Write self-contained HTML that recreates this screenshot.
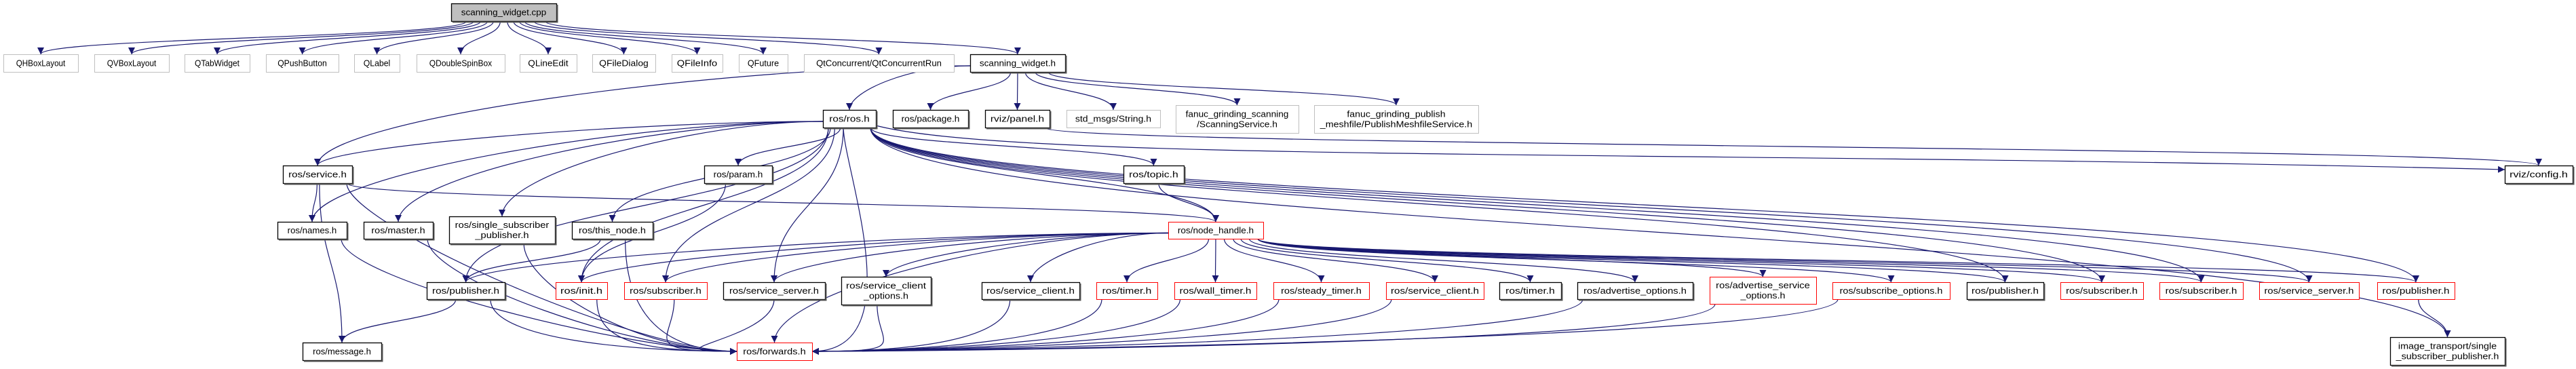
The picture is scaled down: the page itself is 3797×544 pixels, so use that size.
<!DOCTYPE html>
<html><head><meta charset="utf-8"><style>
html,body{margin:0;padding:0;background:#fff;}
svg{display:block;}
text{font-family:"Liberation Sans","DejaVu Sans",sans-serif;font-size:13px;fill:#000;}
</style></head><body>
<svg id="g" width="3797" height="544" viewBox="0 0 3797 544" xmlns="http://www.w3.org/2000/svg">
<defs><marker id="a" viewBox="0 0 10 10" refX="10" refY="5" markerWidth="10" markerHeight="10" markerUnits="userSpaceOnUse" orient="auto"><path d="M0,0 L10,5 L0,10 z" fill="#191970"/></marker></defs>
<g id="edges" fill="none" stroke="#191970" stroke-width="1.2"></g>
<g id="nodes"></g>
</svg>
<script>
var N={
cpp:[665,820,5,31,'r','scanning_widget.cpp'],
qh:[5,115,80,106,'g','QHBoxLayout'],qv:[139,249,80,106,'g','QVBoxLayout'],qt:[272,368,80,106,'g','QTabWidget'],
qp:[392,499,80,106,'g','QPushButton'],ql:[522,589,80,106,'g','QLabel'],qd:[614,744,80,106,'g','QDoubleSpinBox'],
qe:[766,850,80,106,'g','QLineEdit'],qf:[873,966,80,106,'g','QFileDialog'],qi:[990,1065,80,106,'g','QFileInfo'],
qu:[1089,1161,80,106,'g','QFuture'],qc:[1185,1406,80,106,'g','QtConcurrent/QtConcurrentRun'],swh:[1430,1570,80,106,'b','scanning_widget.h'],
ros:[1213,1291,162,188,'b','ros/ros.h'],pkg:[1316,1427,162,188,'b','ros/package.h'],pan:[1452,1547,162,188,'b','rviz/panel.h'],
std:[1572,1710,162,188,'g','std_msgs/String.h'],fs:[1733,1914,155,196,'g','fanuc_grinding_scanning|/ScanningService.h'],
fp:[1937,2179,155,196,'g','fanuc_grinding_publish|_meshfile/PublishMeshfileService.h'],
srv:[417,519,244,270,'b','ros/service.h'],par:[1038,1138,244,270,'b','ros/param.h'],top:[1656,1745,244,270,'b','ros/topic.h'],cfg:[3692,3792,244,270,'b','rviz/config.h'],
nam:[409,511,327,352,'b','ros/names.h'],mas:[536,638,327,352,'b','ros/master.h'],ssp:[662,818,319,359,'b','ros/single_subscriber|_publisher.h'],
thn:[843,962,327,352,'b','ros/this_node.h'],nh:[1722,1862,327,352,'x','ros/node_handle.h'],
pub:[629,744,416,441,'b','ros/publisher.h'],ini:[819,895,416,441,'x','ros/init.h'],sub:[920,1042,416,441,'x','ros/subscriber.h'],
ss:[1066,1216,416,441,'b','ros/service_server.h'],sco:[1240,1372,408,449,'b','ros/service_client|_options.h'],
sc:[1447,1591,416,441,'b','ros/service_client.h'],tim:[1616,1706,416,441,'x','ros/timer.h'],wt:[1731,1852,416,441,'x','ros/wall_timer.h'],
st:[1877,2018,416,441,'x','ros/steady_timer.h'],sc2:[2043,2187,416,441,'x','ros/service_client.h'],tim2:[2210,2301,416,441,'b','ros/timer.h'],
ao:[2325,2495,416,441,'b','ros/advertise_options.h'],aso:[2520,2677,408,448,'x','ros/advertise_service|_options.h'],
so:[2701,2874,416,441,'x','ros/subscribe_options.h'],pub2:[2899,3012,416,441,'b','ros/publisher.h'],sub2:[3037,3159,416,441,'x','ros/subscriber.h'],
sub3:[3183,3306,416,441,'x','ros/subscriber.h'],ss2:[3330,3477,416,441,'x','ros/service_server.h'],pub3:[3504,3618,416,441,'x','ros/publisher.h'],
msg:[446,562,505,531,'b','ros/message.h'],fw:[1086,1197,505,531,'x','ros/forwards.h'],it:[3523,3692,497,538,'b','image_transport/single|_subscriber_publisher.h']
};
var E=[];
['qh','qv','qt','qp','ql','qd','qe','qf','qi','qu','qc','swh'].forEach(function(k){E.push(['cpp',k]);});
['ros','pkg','pan','std','fs','fp','srv'].forEach(function(k){E.push(['swh',k]);});
E.push(['pan','cfg']);
['srv','nam','mas','ssp','thn','par','top','nh','pub','ini','sub','ss','fw','pub2','sub2','sub3','ss2','pub3','it','cfg'].forEach(function(k){E.push(['ros',k]);});
['nam','msg','fw','nh'].forEach(function(k){E.push(['srv',k]);});
['nam','mas','ssp','thn','ini','sub','ss','sco','sc','tim','wt','st','sc2','ao','aso','so'].forEach(function(k){E.push([k,'fw']);});
E.push(['par','ini'],['thn','pub'],['pub','msg'],['pub','fw'],['top','nh'],['pub3','it']);
['ss','sub','ini','pub','sco','sc','tim','wt','st','sc2','tim2','ao','aso','so','pub2','sub2','sub3','ss2','pub3','fw'].forEach(function(k){E.push(['nh',k]);});
var ns='http://www.w3.org/2000/svg',eg=document.getElementById('edges'),ng=document.getElementById('nodes');
function cx(n){return (n[0]+n[1])/2;}
E.forEach(function(e){var s=N[e[0]],t=N[e[1]];var sx=cx(s),sy=s[3],tx=cx(t),ty=t[2],d;
 var sxx=sx+Math.max(-(s[1]-s[0])/2+8,Math.min((s[1]-s[0])/2-8,(tx-sx)*0.08));
 var dx=tx-sx,gap=ty-sy;
 if(e[1]=='fw'&&e[0]!='nh'){ if(s[0]<1086){tx=1086;ty=518;d='M'+sxx+','+sy+' C'+sxx+','+(sy+60)+' '+(tx-150)+','+ty+' '+tx+','+ty;}
   else{tx=1197;ty=518;d='M'+sxx+','+sy+' C'+sxx+','+(sy+60)+' '+(tx+150)+','+ty+' '+tx+','+ty;} }
 else if(e[0]=='ros'&&e[1]=='cfg'){d='M1291,185 C1500,240 2500,220 3692,250';}
 else if(dx<0&&Math.abs(dx)>3.5*gap&&(e[0]=='ros'||e[0]=='nh'||e[0]=='swh')){var side=s[0],yy=(s[2]+s[3])/2+4;
   d='M'+side+','+yy+' C'+(side+dx*0.35)+','+yy+' '+tx+','+(ty-gap*0.5)+' '+tx+','+ty;}
 else{var my=(sy+ty)/2;d='M'+sxx+','+sy+' C'+sxx+','+my+' '+tx+','+my+' '+tx+','+ty;}
 var p=document.createElementNS(ns,'path');p.setAttribute('d',d);p.setAttribute('marker-end','url(#a)');eg.appendChild(p);});
for(var k in N){var n=N[k],r=document.createElementNS(ns,'rect');
 r.setAttribute('x',n[0]+.5);r.setAttribute('y',n[2]+.5);r.setAttribute('width',n[1]-n[0]);r.setAttribute('height',n[3]-n[2]);
 var st=n[4];r.setAttribute('fill',st=='r'?'#bfbfbf':'#fff');r.setAttribute('stroke',st=='g'?'#bfbfbf':st=='x'?'#ff0000':'#000');r.setAttribute('stroke-width',st=='b'||st=='r'?1.3:1);
 ng.appendChild(r);
 if(st=='b'||st=='r'){var sh=document.createElementNS(ns,'path');sh.setAttribute('d','M'+(n[0]+2)+','+(n[3]+1.5)+' H'+(n[1]+1.5)+' V'+(n[2]+2));sh.setAttribute('stroke','#555');sh.setAttribute('stroke-width','2');sh.setAttribute('fill','none');ng.appendChild(sh);}
 var lines=n[5].split('|'),h=n[3]-n[2];
 lines.forEach(function(l,i){var t=document.createElementNS(ns,'text');t.setAttribute('x',cx(n));
  var y=lines.length==1?(n[2]+h/2+4.5):(n[2]+h/2-3+i*15);t.setAttribute('y',y);t.setAttribute('text-anchor','middle');
  var w=Math.min(n[1]-n[0]-14,l.length*6.6);t.setAttribute('textLength',w);t.setAttribute('lengthAdjust','spacingAndGlyphs');
  t.textContent=l;ng.appendChild(t);});
}
</script>
</body></html>
